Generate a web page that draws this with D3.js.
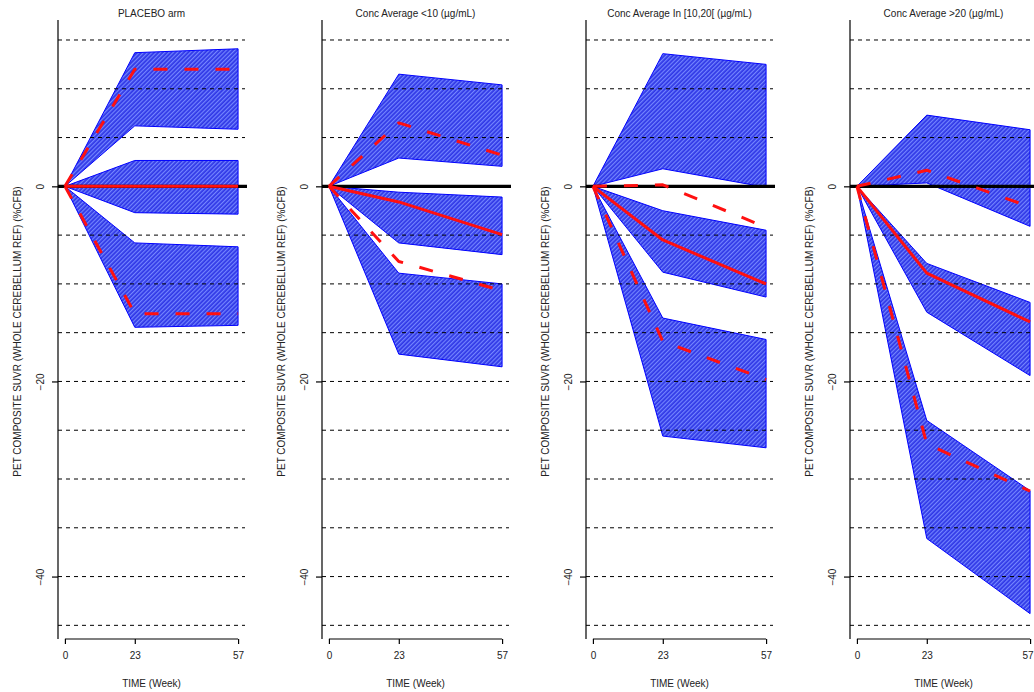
<!DOCTYPE html>
<html>
<head>
<meta charset="utf-8">
<script src="https://cdn.jsdelivr.net/npm/d3@7"></script>
<style>
  html, body { margin: 0; padding: 0; background: #fff; overflow: hidden; }
  svg { display: block; font-family: "Liberation Sans", Arial, sans-serif; }
</style>
</head>
<body>
<svg id="chart" width="1034" height="692"></svg>
<script>
// Visit times (weeks)
const weeks = [0, 23, 57];

const panelTitles = [
  "PLACEBO arm",
  "Conc Average <10 (\u00b5g/mL)",
  "Conc Average In [10,20[ (\u00b5g/mL)",
  "Conc Average >20 (\u00b5g/mL)"
];

// 95th percentile: line and confidence band, one row per panel
const p95Line = [[0, 12.0, 12.0], [0, 6.5, 3.2], [0, 0.15, -4.2], [0, 1.65, -2.1]];
const p95Hi   = [[0, 13.7, 14.1], [0, 11.5, 10.4], [0, 13.6, 12.5], [0, 7.3, 5.8]];
const p95Lo   = [[0, 6.2, 5.85], [0, 2.9, 2.05], [0, 1.8, -0.1], [0, 0.35, -4.1]];

// median: line and confidence band
const p50Line = [[0, 0, 0], [0, -1.6, -4.95], [0, -5.5, -10.0], [0, -8.9, -13.9]];
const p50Hi   = [[0, 2.65, 2.65], [0, -0.6, -1.1], [0, -2.5, -4.5], [0, -7.9, -11.9]];
const p50Lo   = [[0, -2.7, -2.85], [0, -5.8, -7.0], [0, -8.8, -11.35], [0, -12.9, -19.4]];

// 5th percentile: line and confidence band
const p05Line = [[0, -13.05, -13.05], [0, -7.7, -10.7], [0, -15.9, -19.8], [0, -26.4, -31.25]];
const p05Hi   = [[0, -5.8, -6.2], [0, -8.9, -10.0], [0, -13.5, -15.7], [0, -24.0, -31.2]];
const p05Lo   = [[0, -14.45, -14.25], [0, -17.2, -18.5], [0, -25.6, -26.8], [0, -36.1, -43.8]];

const xTicks = [0, 23, 57];
const yTicks = [0, -20, -40];
const refLines = [15, 10, 5, -5, -10, -15, -20, -25, -30, -35, -40, -45];

const yTitle = "PET COMPOSITE SUVR (WHOLE CEREBELLUM REF) (%CFB)";
const xTitle = "TIME (Week)";

// layout
const width = 1034;
const panelStep = 264;
const plotLeft = 58, plotWidth = 187;
const plotTop = 20, plotBottom = 639;

const svg = d3.select("#chart");

// hatched blue fill
const defs = svg.append("defs");
const pat = defs.append("pattern")
  .attr("id", "hatch")
  .attr("patternUnits", "userSpaceOnUse")
  .attr("width", 3).attr("height", 3)
  .attr("patternTransform", "rotate(45)");
pat.append("rect").attr("width", 3).attr("height", 3).attr("fill", "#3038e6");
pat.append("rect").attr("width", 1.2).attr("height", 3).attr("fill", "#7486ff");

const y = d3.scaleLinear().domain([-46.4, 17.05]).range([plotBottom, plotTop]);

panelTitles.forEach((title, i) => {
  const left = plotLeft + i * panelStep;
  const x = d3.scaleLinear().domain([-2.28, 59.28]).range([left, left + plotWidth]);
  const g = svg.append("g");

  const area = d3.area()
    .x(d => x(d.w))
    .y0(d => y(d.lo))
    .y1(d => y(d.hi));
  const line = d3.line().x(d => x(d.w)).y(d => y(d.v));

  const bands = [
    [p95Lo[i], p95Hi[i]],
    [p50Lo[i], p50Hi[i]],
    [p05Lo[i], p05Hi[i]]
  ];
  bands.forEach(([lo, hi]) => {
    const pts = weeks.map((w, k) => ({ w, lo: lo[k], hi: hi[k] }));
    g.append("path")
      .attr("d", area(pts))
      .attr("fill", "url(#hatch)")
      .attr("stroke", "#0000ff")
      .attr("stroke-width", 1)
      .attr("stroke-linejoin", "miter");
  });

  // dashed reference lines
  g.selectAll(".ref").data(refLines).enter().append("line")
    .attr("x1", left).attr("x2", left + plotWidth)
    .attr("y1", d => y(d)).attr("y2", d => y(d))
    .attr("stroke", "#000").attr("stroke-width", 1)
    .attr("stroke-dasharray", "4,4");

  // zero line
  g.append("line")
    .attr("x1", left).attr("x2", left + plotWidth + 2)
    .attr("y1", y(0)).attr("y2", y(0))
    .attr("stroke", "#000").attr("stroke-width", 3.2);

  // percentile lines
  const series = [
    [p95Line[i], "14,17"],
    [p05Line[i], "14,17"],
    [p50Line[i], null]
  ];
  series.forEach(([vals, dash]) => {
    const pts = weeks.map((w, k) => ({ w, v: vals[k] }));
    const p = g.append("path")
      .attr("d", line(pts))
      .attr("fill", "none")
      .attr("stroke", "#ff1010")
      .attr("stroke-width", 3)
      .attr("stroke-linejoin", "round");
    if (dash) p.attr("stroke-dasharray", dash);
  });

  // y axis: full-height line, ticks and rotated labels
  g.append("line")
    .attr("x1", left).attr("x2", left)
    .attr("y1", plotTop).attr("y2", plotBottom)
    .attr("stroke", "#000").attr("stroke-width", 1.2);
  const yAxis = g.append("g").attr("transform", `translate(${left},0)`)
    .call(d3.axisLeft(y).tickValues(yTicks).tickSize(6).tickFormat(d3.format("d")));
  yAxis.select(".domain").remove();
  yAxis.selectAll(".tick line").attr("stroke", "#000").attr("stroke-width", 1.2);
  yAxis.selectAll(".tick text")
    .attr("x", 0).attr("dy", 0)
    .attr("transform", "translate(-14,0) rotate(-90)")
    .attr("text-anchor", "middle")
    .attr("font-size", 10)
    .attr("fill", "#222");

  // x axis
  const xAxis = g.append("g").attr("transform", `translate(0,${plotBottom})`)
    .call(d3.axisBottom(x).tickValues(xTicks).tickSize(5).tickSizeOuter(0).tickPadding(8));
  xAxis.select(".domain")
    .attr("d", `M${x(0)},0H${x(57)}`)
    .attr("stroke", "#000").attr("stroke-width", 1.2);
  xAxis.selectAll(".tick line").attr("stroke", "#000").attr("stroke-width", 1.2);
  xAxis.selectAll(".tick text").attr("font-size", 10).attr("fill", "#222")
    .each(function (d) {
      // keep a label that would run past the right edge inside the page
      const px = x(d);
      if (px + 7 > width) {
        d3.select(this).attr("text-anchor", "end").attr("x", width - 1 - px);
      }
    });

  // titles
  const cx = left + plotWidth / 2;
  g.append("text")
    .attr("x", cx).attr("y", 17)
    .attr("text-anchor", "middle")
    .attr("font-size", 10).attr("fill", "#222")
    .text(title);
  g.append("text")
    .attr("x", cx).attr("y", 687)
    .attr("text-anchor", "middle")
    .attr("font-size", 10).attr("fill", "#222")
    .text(xTitle);
  g.append("text")
    .attr("transform", `translate(${left - 37},${(plotTop + plotBottom) / 2 + 2}) rotate(-90)`)
    .attr("text-anchor", "middle")
    .attr("font-size", 10).attr("fill", "#222")
    .text(yTitle);
});
</script>
</body>
</html>
